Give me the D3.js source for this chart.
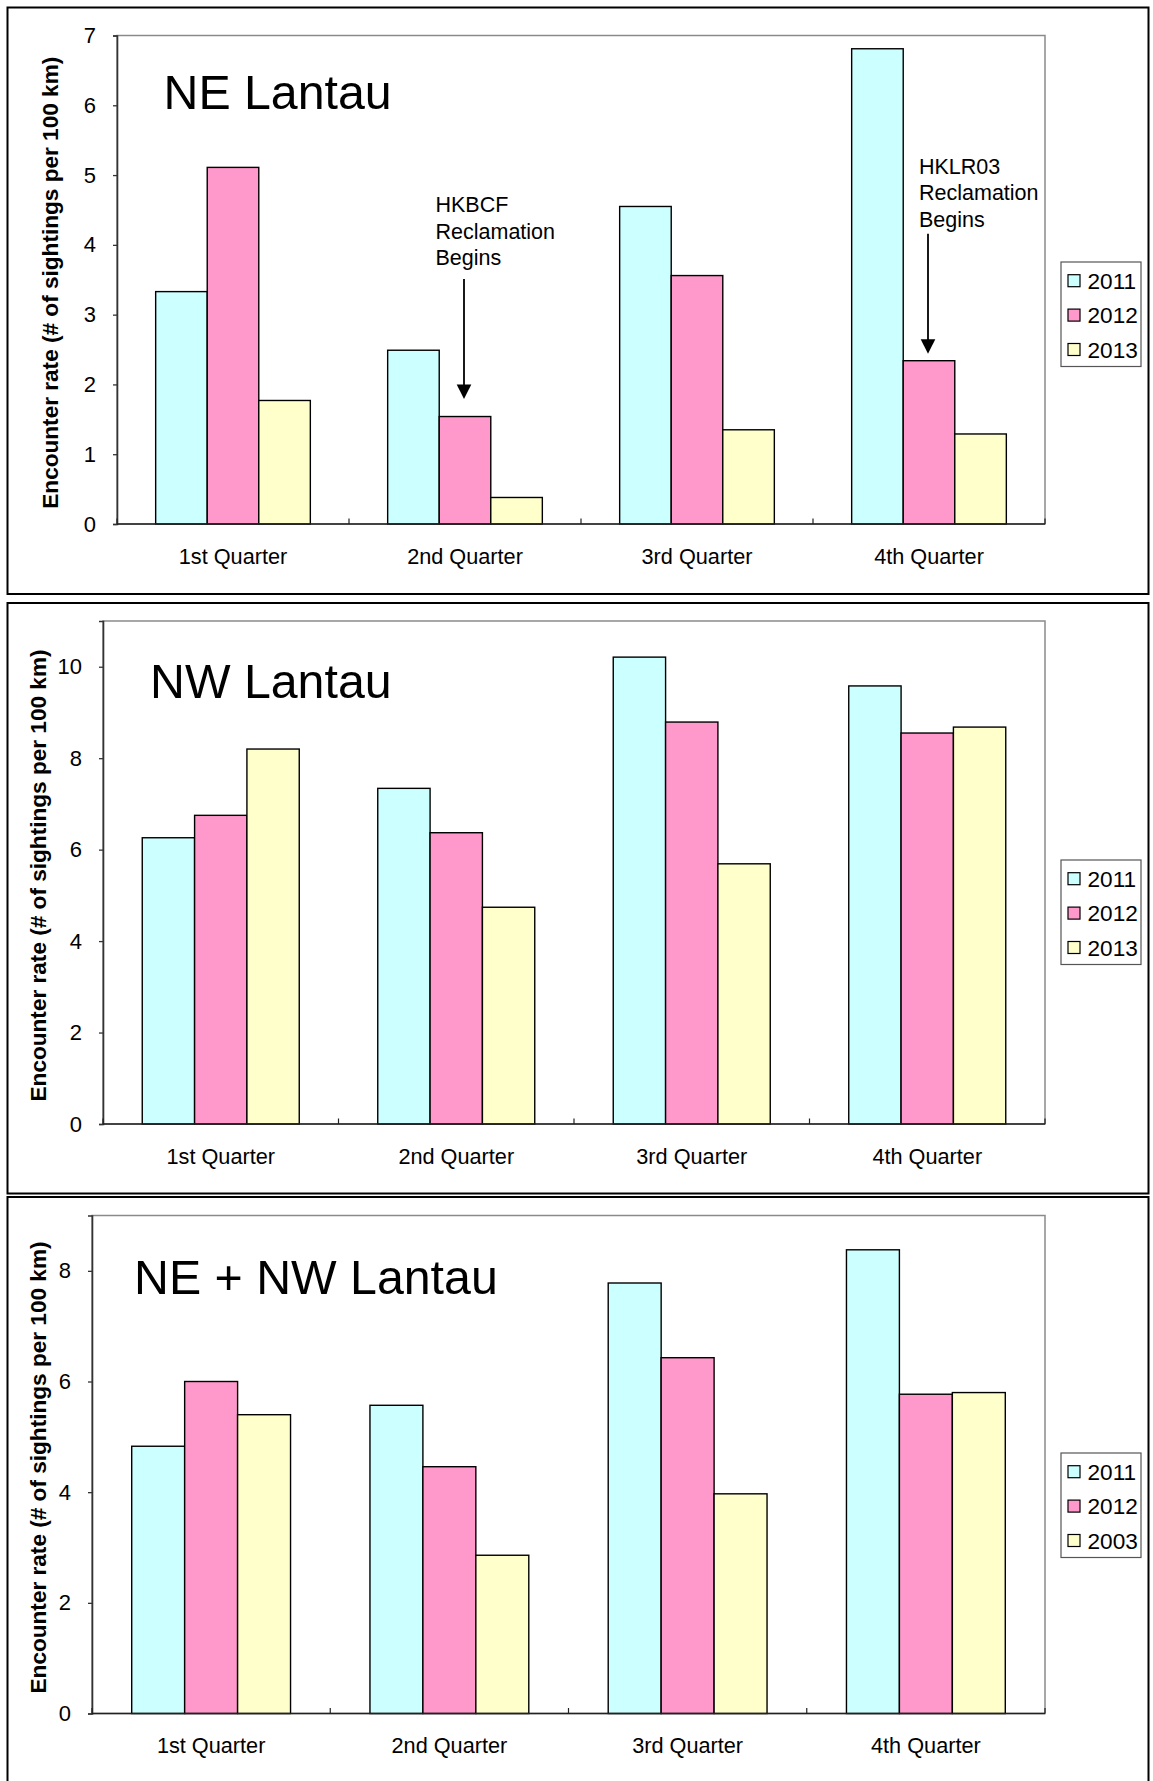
<!DOCTYPE html>
<html>
<head>
<meta charset="utf-8">
<script src="https://cdn.jsdelivr.net/npm/d3@7"></script>
<style>
  html, body { margin: 0; padding: 0; background: #fff; }
  svg { display: block; }
  text { font-family: "Liberation Sans", Arial, sans-serif; fill: #000; }
</style>
</head>
<body>
<svg id="chart" width="1153" height="1781"></svg>
<script>
// ---------------- DATA ----------------
const quarters = ["1st Quarter", "2nd Quarter", "3rd Quarter", "4th Quarter"];

const ne2011 = [3.33, 2.49, 4.55, 6.81];
const ne2012 = [5.11, 1.54, 3.56, 2.34];
const ne2013 = [1.77, 0.38, 1.35, 1.29];

const nw2011 = [6.26, 7.34, 10.21, 9.58];
const nw2012 = [6.75, 6.37, 8.79, 8.55];
const nw2013 = [8.20, 4.74, 5.69, 8.68];

const all2011 = [4.83, 5.57, 7.78, 8.38];
const all2012 = [6.00, 4.46, 6.43, 5.77];
const all2013 = [5.40, 2.86, 3.97, 5.80];

const legendNE = ["2011", "2012", "2013"];
const legendNW = ["2011", "2012", "2013"];
const legendAll = ["2011", "2012", "2003"];

const ticksNE = [0, 1, 2, 3, 4, 5, 6, 7];
const ticksNW = [0, 2, 4, 6, 8, 10];
const ticksAll = [0, 2, 4, 6, 8];

const maxNE = 7, maxNW = 11, maxAll = 9;

const titles = ["NE Lantau", "NW Lantau", "NE + NW Lantau"];
const yTitle = "Encounter rate (# of sightings per 100 km)";

const annotationsNE = [
  { quarter: "2nd Quarter", series: 1, lines: ["HKBCF", "Reclamation", "Begins"] },
  { quarter: "4th Quarter", series: 1, lines: ["HKLR03", "Reclamation", "Begins"] }
];

// ---------------- STYLE / LAYOUT ----------------
const colors = ["#CCFFFF", "#FF99CC", "#FFFFCC"];
const FONT = "'Liberation Sans', Arial, sans-serif";

const panels = [
  { series: [ne2011, ne2012, ne2013], legend: legendNE, ticks: ticksNE, max: maxNE, title: titles[0],
    box: { y: 7.5, h: 586.5 }, plot: { l: 117, r: 1045, t: 35.5, b: 524 },
    titlePos: { x: 163.5, y: 109 }, legendTop: 262, yTitleX: 50, annotations: annotationsNE },
  { series: [nw2011, nw2012, nw2013], legend: legendNW, ticks: ticksNW, max: maxNW, title: titles[1],
    box: { y: 603, h: 590.5 }, plot: { l: 103, r: 1045, t: 621, b: 1124 },
    titlePos: { x: 150, y: 698 }, legendTop: 860, yTitleX: 38, annotations: [] },
  { series: [all2011, all2012, all2013], legend: legendAll, ticks: ticksAll, max: maxAll, title: titles[2],
    box: { y: 1197, h: 620 }, plot: { l: 92, r: 1045, t: 1215.5, b: 1713.5 },
    titlePos: { x: 134, y: 1294 }, legendTop: 1453, yTitleX: 38.5, annotations: [] }
];

// annotation layout (value units on y scale, px offsets for text)
const annLayout = [
  { textDx: -28.5, textY: 4.47, tail: 3.51, tip: 1.79 },
  { textDx: -9, textY: 5.02, tail: 4.16, tip: 2.44 }
];

const svg = d3.select("#chart");

panels.forEach((p) => {
  const g = svg.append("g");

  // outer frame
  g.append("rect")
    .attr("x", 7.5).attr("y", p.box.y)
    .attr("width", 1141).attr("height", p.box.h)
    .attr("fill", "#fff").attr("stroke", "#000").attr("stroke-width", 2);

  const x0 = d3.scaleBand().domain(quarters).range([p.plot.l, p.plot.r]).paddingInner(0).paddingOuter(0);
  const x1 = d3.scaleBand().domain([0, 1, 2]).range([0, x0.bandwidth()]).paddingInner(0).paddingOuter(0.75);
  const y = d3.scaleLinear().domain([0, p.max]).range([p.plot.b, p.plot.t]);

  // plot area border (grey)
  g.append("rect")
    .attr("x", p.plot.l).attr("y", p.plot.t)
    .attr("width", p.plot.r - p.plot.l).attr("height", p.plot.b - p.plot.t)
    .attr("fill", "#fff").attr("stroke", "#8a8a8a").attr("stroke-width", 1.5);

  // bars
  quarters.forEach((q, qi) => {
    p.series.forEach((s, si) => {
      g.append("rect")
        .attr("x", x0(q) + x1(si))
        .attr("y", y(s[qi]))
        .attr("width", x1.bandwidth())
        .attr("height", y(0) - y(s[qi]))
        .attr("fill", colors[si])
        .attr("stroke", "#000")
        .attr("stroke-width", 1.4);
    });
  });

  // y axis
  const yAxis = d3.axisLeft(y).tickValues(p.ticks).tickSize(4).tickPadding(17).tickFormat(d3.format("d"));
  const ya = g.append("g").attr("transform", `translate(${p.plot.l},0)`).call(yAxis);
  ya.select(".domain").attr("stroke", "#333").attr("stroke-width", 1.6);
  ya.selectAll(".tick line").attr("stroke", "#333").attr("stroke-width", 1.3);
  ya.selectAll(".tick text").attr("font-size", 22).attr("fill", "#000").style("font-family", FONT);

  // x axis labels
  const xAxis = d3.axisBottom(x0).tickSize(0).tickPadding(0);
  const xa = g.append("g").attr("transform", `translate(0,${p.plot.b})`).call(xAxis);
  xa.select(".domain").remove();
  xa.selectAll(".tick text").attr("y", 32).attr("dy", "0.35em").attr("font-size", 21.7).attr("fill", "#000")
    .style("font-family", FONT);

  // x baseline
  g.append("line")
    .attr("x1", p.plot.l).attr("x2", p.plot.r)
    .attr("y1", y(0)).attr("y2", y(0))
    .attr("stroke", "#222").attr("stroke-width", 1.6);

  // category boundary ticks (inside)
  const bounds = quarters.map(q => x0(q)).concat([x0.range()[1]]);
  bounds.forEach(bx => {
    g.append("line")
      .attr("x1", bx).attr("x2", bx)
      .attr("y1", y(0)).attr("y2", y(0) - 5.5)
      .attr("stroke", "#222").attr("stroke-width", 1.2);
  });

  // y-axis title
  const cy = (p.plot.t + p.plot.b) / 2 + 3;
  g.append("text")
    .attr("transform", `translate(${p.yTitleX},${cy}) rotate(-90)`)
    .attr("text-anchor", "middle")
    .attr("dominant-baseline", "central")
    .attr("font-size", 22.6)
    .attr("font-weight", "bold")
    .text(yTitle);

  // panel title
  g.append("text")
    .attr("x", p.titlePos.x).attr("y", p.titlePos.y)
    .attr("font-size", 48.3)
    .text(p.title);

  // legend
  const lg = g.append("g").attr("transform", `translate(1061,${p.legendTop})`);
  lg.append("rect").attr("x", 0).attr("y", 0).attr("width", 80).attr("height", 104.5)
    .attr("fill", "#fff").attr("stroke", "#555").attr("stroke-width", 1.2);
  p.legend.forEach((name, i) => {
    const ry = 18.7 + i * 34.4;
    lg.append("rect").attr("x", 7).attr("y", ry - 6).attr("width", 12).attr("height", 12)
      .attr("fill", colors[i]).attr("stroke", "#000").attr("stroke-width", 1.2);
    lg.append("text").attr("x", 26.5).attr("y", ry).attr("dy", "0.36em")
      .attr("font-size", 22.6).text(name);
  });

  // annotations
  p.annotations.forEach((a, ai) => {
    const L = annLayout[ai];
    const ax = x0(a.quarter) + x1(a.series) + x1.bandwidth() / 2 - 1;
    const t = g.append("text").attr("font-size", 21.5);
    a.lines.forEach((ln, li) => {
      t.append("tspan").attr("x", ax + L.textDx).attr("y", y(L.textY) + li * 26.5).text(ln);
    });
    const tipY = y(L.tip);
    const headLen = 14.5, headW = 7.3;
    g.append("line")
      .attr("x1", ax).attr("x2", ax)
      .attr("y1", y(L.tail)).attr("y2", tipY - headLen + 1)
      .attr("stroke", "#000").attr("stroke-width", 1.8);
    g.append("path")
      .attr("d", `M${ax - headW},${tipY - headLen} L${ax + headW},${tipY - headLen} L${ax},${tipY} Z`)
      .attr("fill", "#000");
  });
});
</script>
</body>
</html>
